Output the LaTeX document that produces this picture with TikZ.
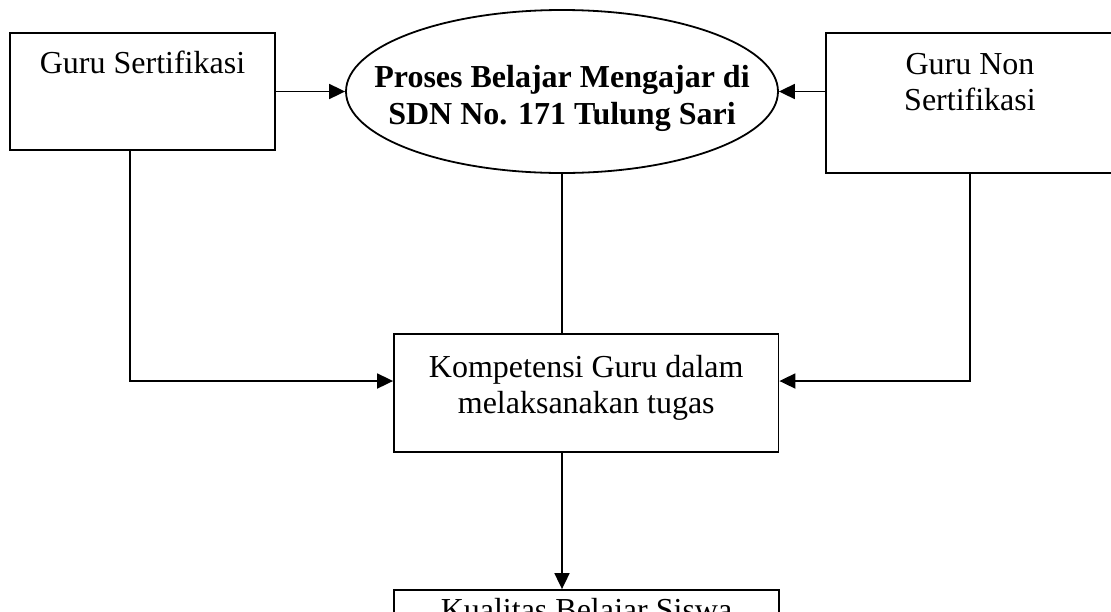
\documentclass[tikz,border=0pt]{standalone}
\usepackage{fontspec}
\setmainfont{Liberation Serif}
\usetikzlibrary{arrows.meta,shapes.geometric}
\newcommand\bxtext[4]{\parbox[c][#2][t]{#1}{\centering\rule{0pt}{#3}#4}}
\tikzset{
  every picture/.style={line width=1.8pt},
  lbl/.style={font=\fontsize{32}{36.8}\selectfont},
  tbox/.style={draw, rectangle, inner sep=0pt, lbl},
  ell/.style={draw, ellipse, inner sep=0pt},
  conn/.style={-{Triangle[length=16pt,width=15pt]}},
  plain/.style={-}
}
\begin{document}
\begin{tikzpicture}[x=1pt,y=-1pt]
\useasboundingbox (0,0) rectangle (1111,611);
\clip (0,0) rectangle (1111,611);
\fill[white] (0,0) rectangle (1111,611);
% boxes
\node[tbox] (gs) at (142.5,91.5) {\bxtext{265pt}{117pt}{40pt}{Guru Sertifikasi}};
\node[tbox] (gn) at (970,103) {\bxtext{288pt}{140pt}{41pt}{Guru Non\\Sertifikasi}};
\node[ell, minimum width=432pt, minimum height=163pt] (pb) at (562,91.5) {};
\node[lbl, font=\fontsize{32}{37}\selectfont\bfseries, inner sep=0pt, anchor=north] (pbt) at (pb.north)
  {\parbox[t]{432pt}{\centering\rule{0pt}{77pt}Proses Belajar Mengajar di\\SDN No. 171 Tulung Sari}};
\node[tbox] (kg) at (586.25,393) {\bxtext{384.5pt}{118pt}{43pt}{Kompetensi Guru dalam\\melaksanakan tugas}};
\node[tbox] (kb) at (586.5,649) {\bxtext{385pt}{118pt}{30pt}{Kualitas Belajar Siswa}};
% connectors
\draw[conn] (gs.east) -- (pb.west);
\draw[conn] (gn.west |- pb.east) -- (pb.east);
\draw[plain] (pb.south) -- (pb.south |- kg.north);
\draw[conn] ([xshift=-12.5pt]gs.south) |- ([yshift=12pt]kg.west);
\draw[conn] (gn.south) |- ([yshift=12pt]kg.east);
\draw[conn] (pb.south |- kg.south) -- (pb.south |- kb.north);
\end{tikzpicture}
\end{document}
